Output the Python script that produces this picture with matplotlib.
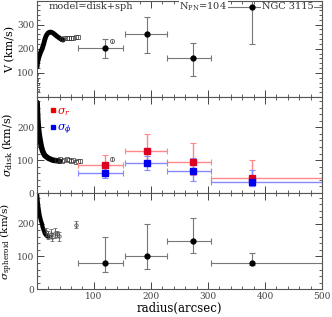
import numpy as np
import matplotlib
matplotlib.use("Agg")
import matplotlib.pyplot as plt
from matplotlib.ticker import MultipleLocator
from matplotlib.lines import Line2D

# ---- binned data ----
r_bin = [119, 193, 273, 378]
r_lo = [72, 154, 229, 305]
r_hi = [151, 229, 305, 500]

V_bin = [204, 263, 160, 372]
V_lo = [162, 181, 86, 218]
V_hi = [241, 333, 223, 440]

sr_bin = [84, 129, 95, 47]
sr_lo = [52, 98, 55, 20]
sr_hi = [117, 180, 152, 99]

sp_bin = [61, 92, 67, 33]
sp_lo = [45, 70, 38, 21]
sp_hi = [77, 112, 107, 69]

ss_bin = [81, 101, 146, 81]
ss_lo = [52, 63, 111, 73]
ss_hi = [158, 199, 217, 111]

# ---- inner (dense) profiles ----
r_in_V = [0.5, 1, 2, 3, 4, 5, 6, 8, 10, 12, 14, 16, 18, 20, 23, 26, 29, 32, 35, 38, 41, 44, 46]
V_in = [125, 140, 150, 160, 168, 175, 182, 193, 205, 220, 238, 252, 260, 266, 269, 268, 264, 258, 252, 247, 242, 238, 236]
r_sq_V = [44, 48, 52, 56, 60, 64, 68, 72]
V_sq = [240, 243, 245, 245, 246, 246, 247, 247]
r_low_V = [1, 1.5, 2, 1]
V_low = [70, 55, 30, 95]

r_in_sd = [0.5, 1, 2, 3, 4, 5, 6, 8, 10, 12, 14, 17, 20, 24, 28, 32, 36, 40]
sd_in = [275, 250, 215, 195, 180, 168, 158, 140, 128, 120, 114, 110, 106, 103, 100, 99, 98, 97]
r_sq_sd = [36, 40, 44, 48, 52, 56, 60, 64, 68, 72, 76]
sd_sq = [100, 103, 98, 101, 104, 99, 97, 100, 95, 96, 97]

r_in_ss = [0.5, 1, 2, 3, 4, 5, 6, 7, 8, 9, 10, 11, 12, 13, 14, 15, 16, 18, 20]
ss_in = [290, 280, 260, 248, 236, 225, 218, 210, 205, 200, 190, 185, 180, 175, 170, 168, 165, 162, 160]
r_oc_ss = [16, 20, 24, 27, 31, 35, 39, 68]
ss_oc = [175, 165, 170, 160, 172, 168, 162, 197]
ss_oc_err = [12, 12, 14, 12, 15, 10, 14, 10]

r_oc_V = [131]
V_oc = [230]
r_oc_sd = [131]
sd_oc = [104]

plt.rcParams['font.family'] = ['DejaVu Serif']
plt.rcParams['mathtext.fontset'] = 'dejavuserif'

fig = plt.figure(figsize=(3.32, 3.17), dpi=100)
gs = fig.add_gridspec(3, 1, left=0.111, right=0.970, top=0.997, bottom=0.088, hspace=0)
axs = [fig.add_subplot(gs[i]) for i in range(3)]

ecol = '#777777'

def errs(c, lo, hi):
    c = np.array(c); return [c - np.array(lo), np.array(hi) - c]

# top panel
ax = axs[0]
ax.plot(r_in_V, V_in, color='black', lw=3.5, solid_capstyle='round')
ax.plot(r_sq_V, V_sq, ls='none', marker='s', ms=2.5, mfc='none', mec='#333333', mew=0.5)
ax.plot(r_low_V, V_low, ls='none', marker='s', ms=1.5, mfc='none', mec='#333333', mew=0.5)
ax.errorbar(r_oc_V, V_oc, yerr=6, fmt='o', ms=3, mfc='none', mec='#555555', ecolor='#555555', elinewidth=0.6, mew=0.6)
ax.errorbar(r_bin, V_bin, xerr=errs(r_bin, r_lo, r_hi), yerr=errs(V_bin, V_lo, V_hi),
            fmt='o', ms=3.5, color='black', ecolor=ecol, elinewidth=0.8, capsize=2, capthick=0.8)
ax.set_ylim(0, 398)
ax.set_yticks([100, 200, 300])
ax.yaxis.set_minor_locator(MultipleLocator(20))
ax.set_ylabel('V (km/s)', fontsize=8, labelpad=1)
bb = dict(facecolor='white', edgecolor='none', pad=0.5)
ax.text(0.04, 0.94, 'model=disk+sph', transform=ax.transAxes, fontsize=7, va='center', ha='left', color='#333333', bbox=bb, zorder=5)
ax.text(0.50, 0.94, r'N$_{\rm PN}$=104', transform=ax.transAxes, fontsize=7, va='center', ha='left', color='#333333', bbox=bb, zorder=5)
ax.text(0.97, 0.94, 'NGC 3115', transform=ax.transAxes, fontsize=7, va='center', ha='right', color='#333333', bbox=bb, zorder=5)

# middle panel
ax = axs[1]
ax.plot(r_in_sd, sd_in, color='black', lw=4, solid_capstyle='round')
ax.plot(r_sq_sd, sd_sq, ls='none', marker='s', ms=2.5, mfc='none', mec='#333333', mew=0.5)
ax.errorbar(r_oc_sd, sd_oc, yerr=6, fmt='o', ms=3, mfc='none', mec='#555555', ecolor='#555555', elinewidth=0.6, mew=0.6)
ax.errorbar(r_bin, sr_bin, xerr=errs(r_bin, r_lo, r_hi), yerr=errs(sr_bin, sr_lo, sr_hi),
            fmt='s', ms=4, color='#dd0022', ecolor='#ff8888', elinewidth=1.0, capsize=2, capthick=0.8)
ax.errorbar(r_bin, sp_bin, xerr=errs(r_bin, r_lo, r_hi), yerr=errs(sp_bin, sp_lo, sp_hi),
            fmt='s', ms=4, color='#0000ee', ecolor='#8888ff', elinewidth=1.0, capsize=2, capthick=0.8)
handles = [Line2D([], [], ls='none', marker='s', ms=3.5, color='#ee0000'),
           Line2D([], [], ls='none', marker='s', ms=3.5, color='#0000ee')]
leg = ax.legend(handles, [r'$\sigma_r$', r'$\sigma_\phi$'], loc='upper left', bbox_to_anchor=(0.02, 0.99),
                frameon=False, fontsize=8, handlelength=0.5, handletextpad=0.1, labelspacing=0.45, borderpad=0.2)
leg.get_texts()[0].set_color('#ee0000')
leg.get_texts()[1].set_color('#0000ee')
ax.set_ylim(0, 292)
ax.set_yticks([0, 100, 200])
ax.yaxis.set_minor_locator(MultipleLocator(20))
ax.set_ylabel(r'$\sigma_{\rm disk}$ (km/s)', fontsize=8, labelpad=1)

# bottom panel
ax = axs[2]
ax.plot(r_in_ss, ss_in, color='black', lw=3, solid_capstyle='round')
ax.errorbar(r_oc_ss, ss_oc, yerr=ss_oc_err, fmt='o', ms=2.5, mfc='none', mec='#444444', ecolor='#555555',
            elinewidth=0.6, mew=0.5, capsize=1.5, capthick=0.5)
ax.errorbar(r_bin, ss_bin, xerr=errs(r_bin, r_lo, r_hi), yerr=errs(ss_bin, ss_lo, ss_hi),
            fmt='o', ms=3.5, color='black', ecolor=ecol, elinewidth=0.8, capsize=2, capthick=0.8)
ax.set_ylim(0, 294)
ax.set_yticks([0, 100, 200])
ax.yaxis.set_minor_locator(MultipleLocator(20))
ax.set_ylabel(r'$\sigma_{\rm spheroid}$ (km/s)', fontsize=7.5, labelpad=1)
ax.set_xlabel('radius(arcsec)', fontsize=8.5, labelpad=1)

for i, ax in enumerate(axs):
    ax.set_xlim(0, 500)
    ax.xaxis.set_major_locator(MultipleLocator(100))
    ax.xaxis.set_minor_locator(MultipleLocator(20))
    ax.tick_params(which='both', direction='in', top=True, right=True, labelsize=6.5, colors='#444444', pad=2)
    ax.tick_params(which='major', length=5, width=0.7)
    ax.tick_params(which='minor', length=2.5, width=0.6)
    for s in ax.spines.values():
        s.set_color('#555555')
        s.set_linewidth(0.8)
    if i < 2:
        ax.tick_params(labelbottom=False)
axs[2].set_xticks([100, 200, 300, 400, 500])
axs[2].xaxis.set_minor_locator(MultipleLocator(20))
fig.align_ylabels(axs)

fig.savefig('out.png', dpi=100)
